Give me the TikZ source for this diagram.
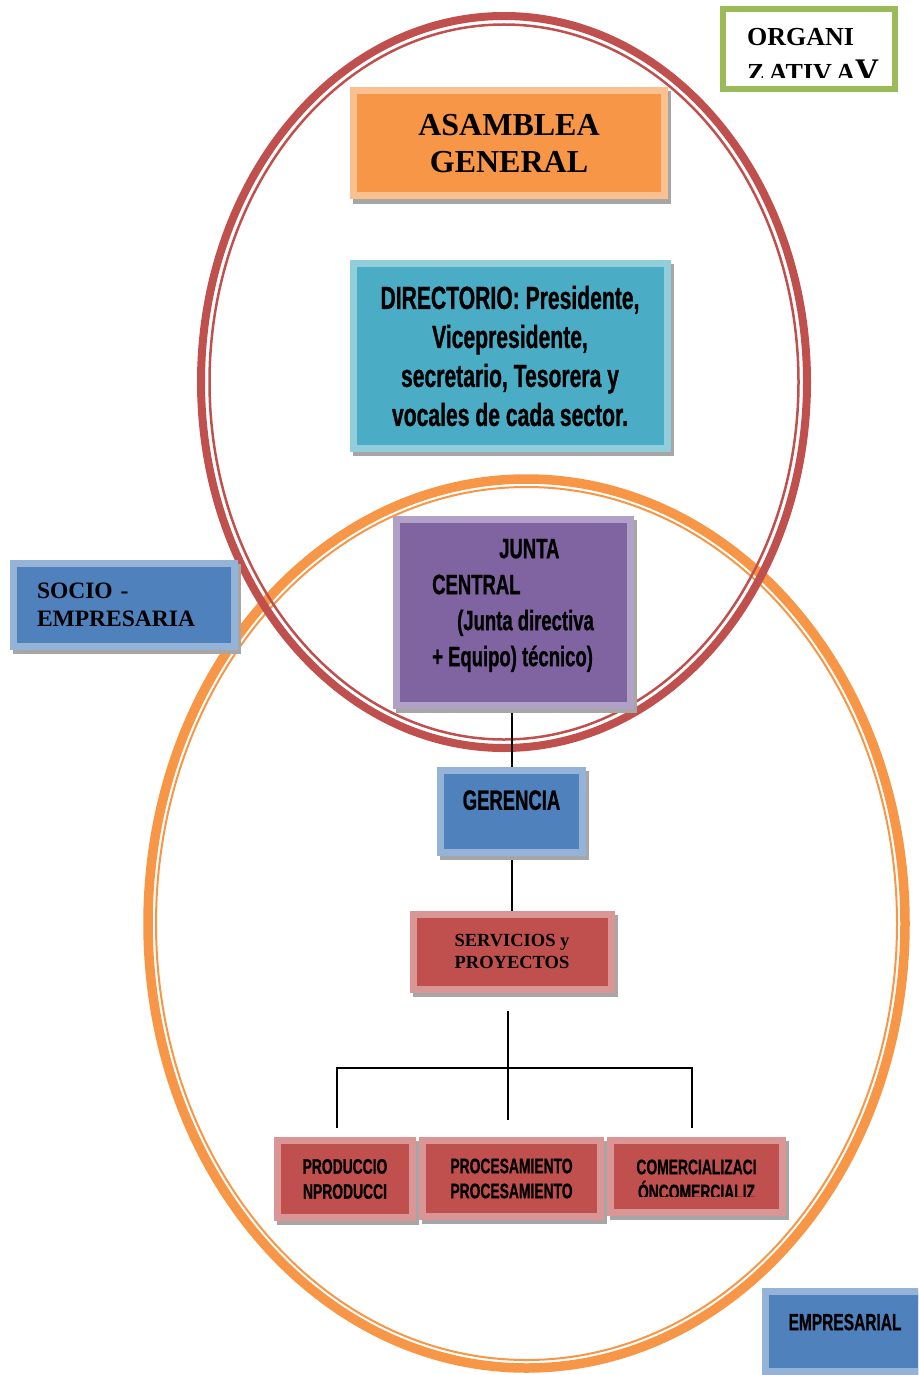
\documentclass[tikz,border=0pt]{standalone}
\usepackage{fontspec}
\setmainfont{Liberation Serif}
\newfontfamily\agency[FakeStretch=0.66,FakeBold=0.8]{Liberation Sans}
\usepackage{xcolor}
\usetikzlibrary{positioning,calc,shadows,backgrounds}
\definecolor{naranja}{HTML}{F79646}
\definecolor{naranjaclaro}{HTML}{FAC090}
\definecolor{azul}{HTML}{4F81BD}
\definecolor{azulclaro}{HTML}{95B3D7}
\definecolor{aqua}{HTML}{4BACC6}
\definecolor{aquaclaro}{HTML}{92CDDC}
\definecolor{morado}{HTML}{8064A2}
\definecolor{moradoclaro}{HTML}{B2A1C7}
\definecolor{rojo}{HTML}{C0504D}
\definecolor{rojoclaro}{HTML}{D99694}
\definecolor{verde}{HTML}{9BBB59}
\newcommand{\agencyfont}[2]{\agency\bfseries\fontsize{#1}{#2}\selectfont}
\newcommand{\timesfont}[2]{\bfseries\fontsize{#1}{#2}\selectfont}

\begin{document}
\begin{tikzpicture}[x=1pt,y=-1pt,
  caja/.style={rectangle,inner sep=0pt,line width=7pt,align=center,
    drop shadow={shadow xshift=3pt,shadow yshift=-4pt,opacity=1,
      fill=black!35,draw=black!35,line width=7pt}},
  conector/.style={line width=2pt,black}]
  \clip (0,0) rectangle (918,1375);
  % titulo
  \node[rectangle,draw=verde,fill=white,line width=6pt,minimum width=172pt,minimum height=80pt]
    (organizativa) at (809,49) {};
  \begin{scope}
    \clip (723,9) rectangle (895,78);
    \node[anchor=north west,inner sep=0pt,align=left,font=\timesfont{26}{36}]
      (organizativatxt) at (747,28.5) {ORGANI\\Z\,ATIV\,A{\fontsize{33}{36}\selectfont V}};
  \end{scope}
  % cajas
  \node[caja,fill=naranja,draw=naranjaclaro,minimum width=311pt,minimum height=105pt,
    font=\timesfont{32}{37}] (asamblea) at (509,143.5) {ASAMBLEA\\GENERAL};
  \node[caja,fill=aqua,draw=aquaclaro,minimum width=314pt,minimum height=184.5pt,
    font=\agencyfont{32}{39}] (directorio) at (510,356)
    {DIRECTORIO: Presidente,\\Vicepresidente,\\secretario, Tesorera y\\vocales de cada sector.};
  \node[caja,fill=morado,draw=moradoclaro,minimum width=234pt,minimum height=186pt,
    align=left,text depth=19pt,font=\agencyfont{28}{36}] (junta) at (513,612)
    {\hspace*{67pt}JUNTA\\CENTRAL\\\hspace*{25pt}(Junta directiva\\+ Equipo) técnico)};
  \node[caja,fill=azul,draw=azulclaro,minimum width=221pt,minimum height=83pt,
    align=left,text width=174pt,inner xsep=23.5pt,font=\timesfont{23.5}{28}] (socio) at (124,605)
    {SOCIO -\\EMPRESARIA};
  \node[caja,fill=azul,draw=azulclaro,minimum width=142pt,minimum height=82pt,
    text depth=23pt,font=\agencyfont{28}{34}] (gerencia) at (511.5,811.5) {GERENCIA};
  \node[caja,fill=rojo,draw=rojoclaro,minimum width=198pt,minimum height=75pt,
    font=\timesfont{18.5}{22}] (servicios) at (512,951.5) {SERVICIOS y\\PROYECTOS};
  \node[caja,fill=rojo,draw=rojoclaro,minimum width=135pt,minimum height=77pt,
    font=\agencyfont{21}{25}] (produccion) at (345,1179) {PRODUCCIO\\NPRODUCCI};
  \node[caja,fill=rojo,draw=rojoclaro,minimum width=178pt,minimum height=76pt,
    font=\agencyfont{21}{25}] (procesamiento) at (511.5,1178.5) {PROCESAMIENTO\\PROCESAMIENTO};
  \node[caja,fill=rojo,draw=rojoclaro,minimum width=172pt,minimum height=72pt]
    (comercializacion) at (696.5,1176.5) {};
  \begin{scope}
    \clip (614,1144) rectangle (779,1196);
    \node[inner sep=0pt,align=center,font=\agencyfont{21}{25}] (comercializaciontxt)
      at ($(comercializacion.center)+(0,3)$) {COMERCIALIZACI\\ÓNCOMERCIALIZ};
  \end{scope}
  \node[caja,fill=azul,draw=azulclaro,minimum width=160pt,minimum height=80pt,
    text depth=19pt,font=\agencyfont{23.5}{28}] (empresarial) at (845,1331.5) {EMPRESARIAL};
  % elipses y conectores
  \begin{scope}[on background layer]
    \draw[naranja,line width=9.5pt] (526.5,923.5) ellipse [x radius=378.5,y radius=444.5];
    \draw[naranja,line width=2pt] (526.5,923.5) ellipse [x radius=370.5,y radius=436.5];
    \draw[rojo,line width=8pt] (504,382) ellipse [x radius=303,y radius=366];
    \draw[rojo,line width=2.5pt] (504,382) ellipse [x radius=294.5,y radius=357.5];
    \draw[conector] (gerencia.north |- junta.south) -- (gerencia.north);
    \draw[conector] (gerencia.south) -- (gerencia.south |- servicios.north);
    \coordinate (tronco) at (508,1011);
    \coordinate (pie) at (508,1120);
    \coordinate (izq) at (337,1068);
    \coordinate (der) at (692,1068);
    \coordinate (izqpie) at (337,1128);
    \coordinate (derpie) at (692,1128);
    \draw[conector] (tronco) -- (pie);
    \draw[conector] (izqpie) -- (izq) -- (der) -- (derpie);
  \end{scope}
\end{tikzpicture}
\end{document}
